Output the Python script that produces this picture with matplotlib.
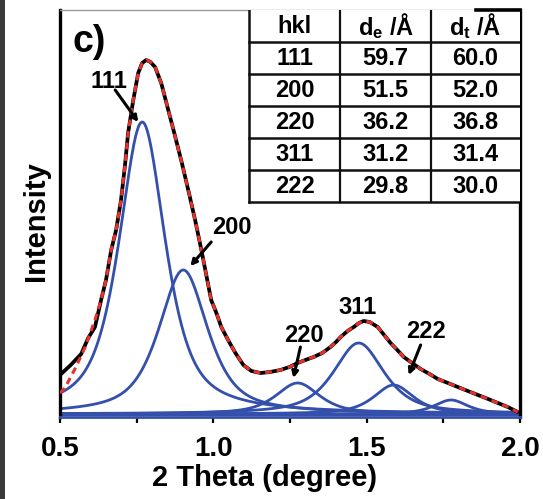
import numpy as np
import matplotlib
matplotlib.use("Agg")
import matplotlib.pyplot as plt
from matplotlib.lines import Line2D
from matplotlib.patches import Rectangle

plt.rcParams["font.family"] = ["Liberation Sans", "DejaVu Sans"]
plt.rcParams["font.weight"] = "bold"
plt.rcParams["mathtext.fontset"] = "custom"
plt.rcParams["mathtext.rm"] = "Liberation Sans:bold"
plt.rcParams["mathtext.default"] = "rm"

# Measured SAXS pattern: 2θ (degree) vs intensity (a.u.)
theta_meas = [0.500, 0.535, 0.569, 0.592, 0.614, 0.634, 0.650, 0.667, 0.683, 0.699,
              0.712, 0.722, 0.739, 0.755, 0.768, 0.781, 0.795, 0.810, 0.830, 0.853,
              0.876, 0.899, 0.922, 0.942, 0.961, 0.977, 0.993, 1.010, 1.026, 1.048,
              1.072, 1.098, 1.124, 1.154, 1.185, 1.219, 1.248, 1.275, 1.300, 1.327,
              1.355, 1.382, 1.400, 1.415, 1.438, 1.458, 1.475, 1.490, 1.510, 1.536,
              1.557, 1.578, 1.600, 1.621, 1.648, 1.676, 1.705, 1.732, 1.765, 1.797,
              1.830, 1.863, 1.896, 1.928, 1.960, 1.993]
int_meas = [40, 50, 61, 77, 88, 115, 135, 165, 185, 215,
            250, 282, 315, 342, 352, 355, 353, 348, 332, 305,
            278, 250, 220, 193, 165, 140, 115, 102, 88, 75,
            62, 50, 44, 42, 43, 45, 48, 52, 55, 58,
            62, 68, 73, 78, 84, 88, 92, 94, 93, 88,
            80, 72, 65, 58, 52, 46, 41, 36, 32, 28,
            24, 20, 16, 12, 8, 3]

# Total fitted envelope
theta_fit = [0.500, 0.516, 0.552, 0.582, 0.614, 0.634, 0.650, 0.667, 0.683, 0.699,
             0.712, 0.722, 0.739, 0.755, 0.768, 0.781, 0.795, 0.810, 0.830, 0.853,
             0.876, 0.899, 0.922, 0.942, 0.961, 0.977, 0.993, 1.010, 1.026, 1.048,
             1.072, 1.098, 1.124, 1.154, 1.185, 1.219, 1.248, 1.275, 1.300, 1.327,
             1.355, 1.382, 1.400, 1.415, 1.438, 1.458, 1.475, 1.490, 1.510, 1.536,
             1.557, 1.578, 1.600, 1.621, 1.648, 1.676, 1.705, 1.732, 1.765, 1.797,
             1.830, 1.863, 1.896, 1.928, 1.960, 1.993]
int_fit = [22, 27, 48, 68, 95, 115, 135, 165, 185, 215,
           250, 282, 315, 342, 352, 355, 353, 348, 332, 305,
           278, 250, 220, 193, 165, 140, 115, 102, 88, 75,
           62, 50, 44, 42, 43, 45, 48, 52, 55, 58,
           62, 68, 73, 78, 84, 88, 92, 94, 93, 88,
           80, 72, 65, 58, 52, 46, 41, 36, 32, 28,
           24, 20, 16, 12, 8, 3]

# Pseudo-Voigt components of the fit
peak_hkl = ["111", "200", "220", "311", "222", ""]
peak_center = [0.768, 0.902, 1.275, 1.474, 1.588, 1.775]
peak_height = [292, 144, 31, 71, 29, 14]
peak_hwhm = [0.090, 0.095, 0.085, 0.098, 0.077, 0.065]
peak_eta = 0.7
background = 1.0

# d-spacing table (experimental / theoretical)
table_header = ["hkl", "d$_{e}$ /Å", "d$_{t}$ /Å"]
table_hkl = ["111", "200", "220", "311", "222"]
table_de = [59.7, 51.5, 36.2, 31.2, 29.8]
table_dt = [60.0, 52.0, 36.8, 31.4, 30.0]

BLUE = "#3450ab"
RED = "#e5322d"

fig = plt.figure(figsize=(5.43, 4.99), dpi=100)
ax = fig.add_axes([60 / 543, 1 - 417 / 499, 460 / 543, 407 / 499])

# component profiles
tt = np.linspace(0.5, 2.0, 600)
ax.plot([0.5, 2.0], [background, background], color=BLUE, lw=2.2,
        zorder=2, clip_on=False, solid_capstyle="butt")
for c, h, w in zip(peak_center, peak_height, peak_hwhm):
    u2 = ((tt - c) / w) ** 2
    prof = peak_eta / (1 + u2) + (1 - peak_eta) * np.exp(-np.log(2) * u2)
    ax.plot(tt, background + h * prof, color=BLUE, lw=2.0, zorder=2)

ax.plot(theta_meas, int_meas, color="black", lw=2.7, zorder=3,
        solid_joinstyle="round", solid_capstyle="round")
ax.plot(theta_fit, int_fit, color=RED, lw=2.2, ls=(0, (2.2, 1.6)), zorder=4)

ax.set_xlim(0.5, 2.0)
ax.set_ylim(-2, 405)
ax.set_xticks([0.5, 1.0, 1.5, 2.0])
ax.set_xticklabels(["0.5", "1.0", "1.5", "2.0"])
ax.set_xticks([0.75, 1.25, 1.75], minor=True)
ax.set_yticks([])
ax.tick_params(axis="x", which="both", direction="out", length=4, width=1.6,
               color="black", pad=10, labelsize=20)
for lab in ax.get_xticklabels():
    lab.set_fontweight("bold")

for side in ("left", "right"):
    ax.spines[side].set_linewidth(2.4)
    ax.spines[side].set_color("black")
ax.spines["bottom"].set_linewidth(2.0)
ax.spines["bottom"].set_color(BLUE)
ax.spines["top"].set_linewidth(1.0)
ax.spines["top"].set_color("#9a9a9a")
ax.add_line(Line2D([0.904, 1.0], [1.0, 1.0], transform=ax.transAxes,
                   color="black", lw=2.6, clip_on=False, zorder=6))

# peak labels with arrows
label_style = dict(fontsize=17, fontweight="bold", ha="center", va="center", zorder=7)
ax.text(0.660, 333, peak_hkl[0], **label_style)
ax.text(1.062, 188, peak_hkl[1], **label_style)
ax.text(1.297, 80, peak_hkl[2], **label_style)
ax.text(1.471, 108, peak_hkl[3], **label_style)
ax.text(1.693, 84, peak_hkl[4], **label_style)
arrow_style = dict(arrowstyle="-|>,head_length=0.35,head_width=0.18",
                   lw=2.2, color="black", shrinkA=0, shrinkB=0)
for start, tip in [((0.680, 325), (0.755, 293)),
                   ((0.993, 173), (0.925, 149)),
                   ((1.284, 68), (1.261, 37)),
                   ((1.676, 70), (1.637, 40))]:
    ax.annotate("", xy=tip, xytext=start, arrowprops=arrow_style, zorder=7)

# table drawn inside the upper-right corner of the axes
col_edges = [0.411, 0.609, 0.807, 1.0]
row_top = 1.0
row_h = 0.0787
n_rows = len(table_hkl) + 1
tab_bottom = row_top - n_rows * row_h
ax.add_patch(Rectangle((col_edges[0], tab_bottom), 1.0 - col_edges[0],
                       row_top - tab_bottom, transform=ax.transAxes,
                       facecolor="white", edgecolor="none", zorder=5))
for k in range(1, n_rows + 1):
    y = row_top - k * row_h
    ax.add_line(Line2D([col_edges[0], 1.0], [y, y], transform=ax.transAxes,
                       color="#111111", lw=1.8, zorder=6))
for xe in col_edges[:3]:
    ax.add_line(Line2D([xe, xe], [tab_bottom, row_top], transform=ax.transAxes,
                       color="#111111", lw=1.6 if xe != col_edges[0] else 1.8, zorder=6))
col_mid = [(col_edges[i] + col_edges[i + 1]) / 2 for i in range(3)]
rows = [table_header] + [[h, f"{a:.1f}", f"{b:.1f}"]
                         for h, a, b in zip(table_hkl, table_de, table_dt)]
for r, row in enumerate(rows):
    yc = row_top - (r + 0.5) * row_h
    for cx, txt in zip(col_mid, row):
        ax.text(cx, yc, txt, transform=ax.transAxes, ha="center", va="center",
                fontsize=17, fontweight="bold", zorder=7)

# panel letter and axis titles
fig.text(89 / 543, 1 - 42 / 499, "c)", fontsize=27, fontweight="bold",
         ha="center", va="center")
fig.text(36 / 543, 1 - 221 / 499, "Intensity", fontsize=21, fontweight="bold",
         rotation=90, ha="center", va="center")
fig.text(265 / 543, 1 - 478 / 499, "2 Theta (degree)", fontsize=21,
         fontweight="bold", ha="center", va="center")

# dark edge strip along the left border
fig.patches.append(Rectangle((0, 0), 5 / 543, 1, transform=fig.transFigure,
                             facecolor="#3a3a3a", edgecolor="none"))

fig.savefig("out.png", dpi=100, facecolor="white")
